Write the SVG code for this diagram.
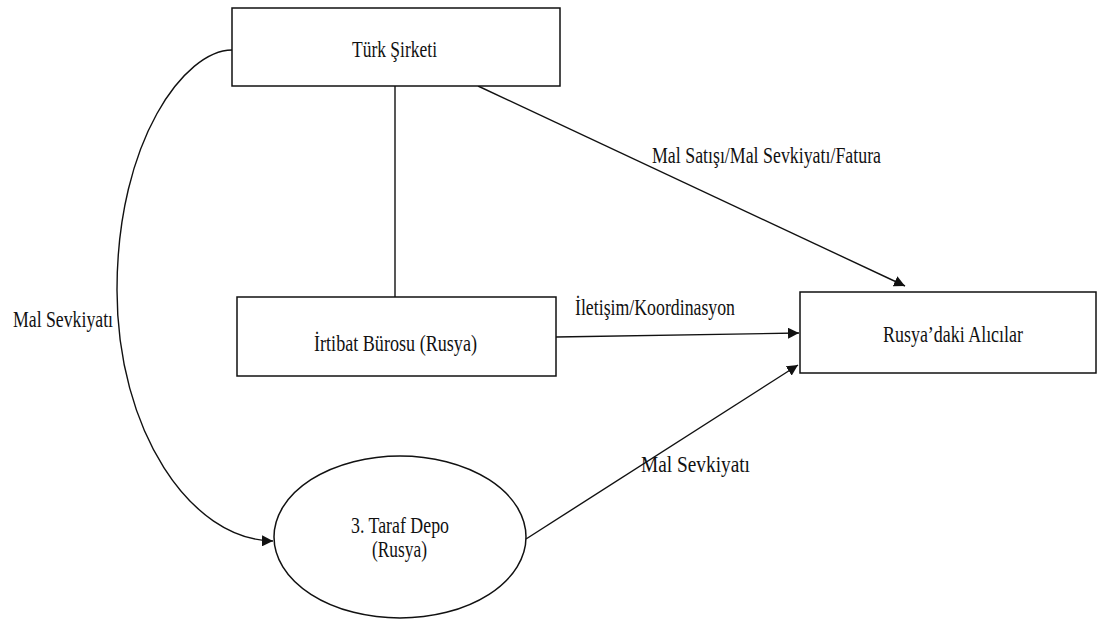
<svg xmlns="http://www.w3.org/2000/svg" width="1105" height="626" viewBox="0 0 1105 626">
  <style>
    .box { fill: #fff; stroke: #111; stroke-width: 1.5; }
    .edge { fill: none; stroke: #111; stroke-width: 1.4; }
    .lbl { font-family: "Liberation Serif", "Times New Roman", serif; font-size: 23px; fill: #111; }
  </style>
  <defs>
    <marker id="arrow" markerUnits="userSpaceOnUse" markerWidth="12" markerHeight="11" refX="11" refY="5.5" orient="auto">
      <path d="M0,0 L11,5.5 L0,11 z" fill="#111"/>
    </marker>
  </defs>
  <rect width="1105" height="626" fill="#fff"/>

  <g id="connectors">
    <path class="edge" d="M395,86 L395,297"/>
    <path class="edge" d="M478,86 L905,286" marker-end="url(#arrow)"/>
    <path class="edge" d="M556,337 L799,333" marker-end="url(#arrow)"/>
    <path class="edge" d="M526,539 L798,365" marker-end="url(#arrow)"/>
    <path class="edge" d="M232,50 C185,50 117,140 117,290 C117,430 190,540 273,541" marker-end="url(#arrow)"/>
    <text class="lbl" x="652" y="163" textLength="229" lengthAdjust="spacingAndGlyphs">Mal Satışı/Mal Sevkiyatı/Fatura</text>
    <text class="lbl" x="575" y="315" textLength="160" lengthAdjust="spacingAndGlyphs">İletişim/Koordinasyon</text>
    <text class="lbl" x="641" y="472" textLength="109" lengthAdjust="spacingAndGlyphs">Mal Sevkiyatı</text>
    <text class="lbl" x="13" y="327" textLength="100" lengthAdjust="spacingAndGlyphs">Mal Sevkiyatı</text>
  </g>

  <g id="turk-sirketi">
    <rect class="box" x="232" y="8" width="328" height="78"/>
    <text class="lbl" x="352" y="57" textLength="85" lengthAdjust="spacingAndGlyphs">Türk Şirketi</text>
  </g>

  <g id="irtibat-burosu">
    <rect class="box" x="237" y="297" width="319" height="79"/>
    <text class="lbl" x="314" y="351" textLength="163" lengthAdjust="spacingAndGlyphs">İrtibat Bürosu (Rusya)</text>
  </g>

  <g id="rusyadaki-alicilar">
    <rect class="box" x="800" y="292" width="296" height="81"/>
    <text class="lbl" x="883" y="342" textLength="140" lengthAdjust="spacingAndGlyphs">Rusya’daki Alıcılar</text>
  </g>

  <g id="taraf-depo">
    <ellipse class="box" cx="400" cy="537" rx="126" ry="81"/>
    <text class="lbl" x="351" y="533" textLength="98" lengthAdjust="spacingAndGlyphs">3. Taraf Depo</text>
    <text class="lbl" x="372" y="557" textLength="55" lengthAdjust="spacingAndGlyphs">(Rusya)</text>
  </g>
</svg>
